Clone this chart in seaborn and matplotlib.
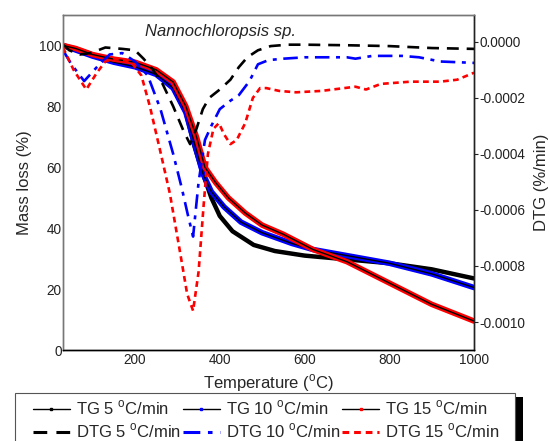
import matplotlib
matplotlib.use("Agg")
import matplotlib.pyplot as plt
from matplotlib.lines import Line2D
from matplotlib.patches import Rectangle
import seaborn as sns
import numpy as np
import pandas as pd

# ---------------- data ----------------
tg5_T = [30, 60, 100, 150, 200, 250, 290, 320, 340, 360, 380, 400, 430, 480, 530, 600, 680, 800, 900, 1000]
tg5_m = [100, 99, 97, 95, 93.5, 91, 86, 78, 67, 58, 50, 44, 39, 34.5, 32.5, 31, 30, 28.5, 26.5, 23.5]

tg10_T = [30, 60, 100, 150, 200, 250, 290, 320, 340, 360, 380, 410, 450, 500, 570, 620, 700, 800, 900, 1000]
tg10_m = [100, 98.5, 96.5, 94.5, 93, 90.5, 86, 78, 68, 58, 52, 47, 42, 38.5, 35, 33, 31, 28.5, 25, 20.5]

tg15_T = [30, 60, 100, 150, 200, 250, 290, 320, 345, 365, 390, 420, 460, 500, 550, 620, 700, 800, 900, 1000]
tg15_m = [100, 99, 97, 95.5, 94.5, 92, 88, 80, 70, 60, 55, 50, 45, 41, 38, 33, 29, 22, 15, 9.5]

dtg5_T = [30, 45, 70, 95, 130, 170, 200, 220, 240, 265, 290, 315, 330, 345, 360, 375, 400, 425, 445, 465, 490,
          520, 560, 600, 700, 800, 900, 1000]
dtg5_v = [-0.1, -0.3, -0.45, -0.4, -0.2, -0.25, -0.3, -0.6, -0.95, -1.5, -2.3, -3.2, -3.65, -3.1, -2.4, -2.0,
          -1.7, -1.35, -0.9, -0.55, -0.3, -0.15, -0.1, -0.1, -0.12, -0.15, -0.22, -0.25]

dtg10_T = [30, 50, 80, 110, 140, 170, 200, 230, 260, 290, 310, 325, 337, 350, 365, 380, 400, 425, 445, 470, 490,
           515, 550, 600, 700, 720, 760, 830, 870, 920, 1000]
dtg10_v = [-0.3, -0.8, -1.4, -0.9, -0.45, -0.4, -0.7, -1.2, -2.4, -4.0, -5.2, -6.2, -6.95, -5.0, -3.5, -3.0,
           -2.4, -2.1, -1.9, -1.4, -0.8, -0.65, -0.6, -0.55, -0.55, -0.6, -0.5, -0.5, -0.55, -0.7, -0.75]

dtg15_T = [30, 55, 85, 110, 130, 150, 190, 215, 235, 258, 282, 305, 323, 337, 350, 362, 372, 385, 398, 410, 425,
           440, 460, 478, 495, 510, 540, 580, 640, 720, 745, 780, 850, 920, 960, 1000]
dtg15_v = [-0.2, -1.0, -1.7, -1.1, -0.7, -0.6, -0.7, -1.2, -2.3, -3.8, -5.4, -7.4, -9.0, -9.6, -8.2, -5.8, -4.0,
           -3.1, -2.9, -3.3, -3.65, -3.5, -2.9, -2.0, -1.65, -1.65, -1.75, -1.8, -1.75, -1.6, -1.7, -1.5, -1.42,
           -1.42, -1.35, -1.1]

dtg_scale = 1e-4

x_ticks = [200, 400, 600, 800, 1000]
y_ticks = [0, 20, 40, 60, 80, 100]
y2_ticks = [0.0, -0.0002, -0.0004, -0.0006, -0.0008, -0.0010]

# ---------------- style ----------------
sns.set_theme(style="white")
plt.rcParams["font.family"] = ["Liberation Sans", "DejaVu Sans"]
plt.rcParams["axes.unicode_minus"] = False
plt.rcParams["mathtext.fontset"] = "custom"
plt.rcParams["mathtext.rm"] = "Liberation Sans"

W, H = 550.0, 441.0
fig = plt.figure(figsize=(5.5, 4.41), dpi=100)
ax = fig.add_axes([0.1145, 0.2063, 0.7475, 0.7597])
ax2 = ax.twinx()

# TG curves: thick coloured band with thin black core
tg_sets = [(tg5_T, tg5_m, "black", 3.2), (tg10_T, tg10_m, "#0000ff", 4.0), (tg15_T, tg15_m, "#ff0000", 4.0)]
for T, m, c, lw in tg_sets:
    df = pd.DataFrame({"T": T, "m": m})
    sns.lineplot(data=df, x="T", y="m", ax=ax, color=c, lw=lw, legend=False)
    sns.lineplot(data=df, x="T", y="m", ax=ax, color="black", lw=1.0, legend=False)

# DTG curves
dtg_sets = [
    (dtg5_T, dtg5_v, "black", (0, (4.5, 3.0))),
    (dtg10_T, dtg10_v, "#0000ff", (0, (5.5, 2.5, 1.5, 2.5))),
    (dtg15_T, dtg15_v, "#ff0000", (0, (2.2, 1.6))),
]
for T, v, c, ls in dtg_sets:
    df = pd.DataFrame({"T": T, "v": np.array(v) * dtg_scale})
    sns.lineplot(data=df, x="T", y="v", ax=ax2, color=c, lw=1.9, linestyle=ls, legend=False)

# axes limits / ticks
ax.set_xlim(30, 1000)
ax.set_ylim(0, 110)
ax2.set_ylim(-0.0011, 0.000096)
ax.set_xticks(x_ticks)
ax.set_xticklabels([str(t) for t in x_ticks])
ax.set_yticks(y_ticks)
ax.set_yticklabels([str(t) for t in y_ticks])
ax2.set_yticks(y2_ticks)
ax2.set_yticklabels([f"{t:.4f}" for t in y2_ticks])

ax.tick_params(axis="both", length=0, labelsize=9.8, colors="#222222", pad=1)
ax.tick_params(axis="x", pad=2)
ax2.tick_params(axis="y", direction="out", length=3, width=0.8, labelsize=9.8, colors="#222222", pad=1)

for a in (ax, ax2):
    a.spines["left"].set_color("#777777")
    a.spines["top"].set_color("#777777")
    a.spines["bottom"].set_color("black")
    a.spines["right"].set_color("#222222")
    for s in a.spines.values():
        s.set_linewidth(1.0)
ax2.set_xlabel("")

ax.set_xlabel("Temperature ($^{\\mathrm{o}}$C)", fontsize=12, labelpad=4)
ax.set_ylabel("Mass loss (%)", fontsize=12, labelpad=5)
ax2.set_ylabel("DTG (%/min)", fontsize=12, labelpad=6)

ax.text(0.382, 0.952, "Nannochloropsis sp.", transform=ax.transAxes, fontsize=12,
        style="italic", ha="center", va="center")

# legend frame with a black shadow on the right
fig.add_artist(Rectangle((515 / W, -0.05), 8 / W, (441 - 397) / H + 0.05, transform=fig.transFigure,
                         facecolor="black", edgecolor="none", zorder=1))
fig.add_artist(Rectangle((15 / W, -0.05), 500 / W, (441 - 393) / H + 0.05, transform=fig.transFigure,
                         facecolor="white", edgecolor="#555555", lw=0.8, zorder=2))

# legend
unit = " $^{\\mathrm{o}}$C/min"
handles = [
    Line2D([], [], color="black", lw=1.0, marker="s", markersize=2.0, markerfacecolor="black", markeredgecolor="black"),
    Line2D([], [], color="black", lw=2.2, linestyle=(0, (4.5, 3.0))),
    Line2D([], [], color="black", lw=1.0, marker="s", markersize=2.0, markerfacecolor="#0000ff", markeredgecolor="#0000ff"),
    Line2D([], [], color="#0000ff", lw=2.2, linestyle=(0, (5.5, 2.5, 1.5, 2.5))),
    Line2D([], [], color="black", lw=1.0, marker="s", markersize=2.0, markerfacecolor="#ff0000", markeredgecolor="#ff0000"),
    Line2D([], [], color="#ff0000", lw=2.2, linestyle=(0, (2.2, 1.6))),
]
labels = ["TG 5" + unit, "DTG 5" + unit, "TG 10" + unit, "DTG 10" + unit, "TG 15" + unit, "DTG 15" + unit]
leg = fig.legend(handles, labels, loc="upper left", bbox_to_anchor=(33 / W, 1 - 399 / H), ncol=3,
                 fontsize=12, handlelength=2.2, handletextpad=0.35, columnspacing=0.15,
                 labelspacing=0.25, borderpad=0.0, borderaxespad=0.0, frameon=False)
leg.set_zorder(3)

fig.savefig("out.png", dpi=100)
